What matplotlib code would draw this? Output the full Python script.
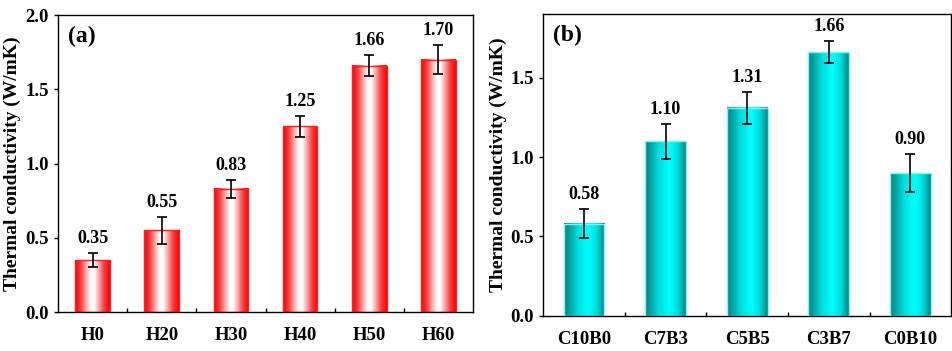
import numpy as np
import matplotlib
matplotlib.use("Agg")
import matplotlib.pyplot as plt
from matplotlib.colors import LinearSegmentedColormap
from matplotlib.ticker import MultipleLocator, FixedLocator, FormatStrFormatter

plt.rcParams["font.family"] = ["Liberation Serif", "DejaVu Serif"]
plt.rcParams["font.weight"] = "bold"

# panel (a)
labels_a = ["H0", "H20", "H30", "H40", "H50", "H60"]
values_a = [0.35, 0.55, 0.83, 1.25, 1.66, 1.70]
errors_a = [0.05, 0.09, 0.06, 0.07, 0.07, 0.10]
text_a = ["0.35", "0.55", "0.83", "1.25", "1.66", "1.70"]

# panel (b)
labels_b = ["C10B0", "C7B3", "C5B5", "C3B7", "C0B10"]
values_b = [0.58, 1.10, 1.31, 1.66, 0.90]
errors_b = [0.09, 0.11, 0.10, 0.07, 0.12]
text_b = ["0.58", "1.10", "1.31", "1.66", "0.90"]

red_cmap = LinearSegmentedColormap.from_list(
    "redwhite", [(0, "#ff0000"), (0.15, "#f53a3a"), (0.45, "#ffffff"),
                 (0.55, "#ffffff"), (0.85, "#f53a3a"), (1, "#ff0000")])
cyan_cmap = LinearSegmentedColormap.from_list(
    "teal", [(0, "#0a8080"), (0.35, "#00e0e0"), (0.6, "#00ffff"),
             (0.8, "#00dede"), (1, "#0a8585")])


def grad_bars(ax, vals, errs, texts, cmap, edge, width, ymax):
    x = np.arange(len(vals))
    grad = np.linspace(0, 1, 64).reshape(1, -1)
    for xi, v in zip(x, vals):
        ax.imshow(grad, cmap=cmap, aspect="auto", origin="lower",
                  extent=[xi - width / 2, xi + width / 2, 0, v], zorder=2,
                  interpolation="bilinear")
    ax.bar(x, vals, width=width, facecolor="none", edgecolor=edge,
           linewidth=1.0, zorder=3)
    ax.errorbar(x, vals, yerr=errs, fmt="none", ecolor="black",
                elinewidth=1.2, capsize=3.5, capthick=1.2, zorder=4)
    for xi, v, e, t in zip(x, vals, errs, texts):
        ax.text(xi, v + e + ymax * 0.02, t, ha="center", va="bottom",
                fontsize=13, fontweight="bold")
    ax.set_xlim(-0.5, len(vals) - 0.5)
    ax.set_ylim(0, ymax)


fig = plt.figure(figsize=(9.53, 3.51), dpi=100)
ax1 = fig.add_axes([0.0609, 0.111, 0.4354, 0.846])
ax2 = fig.add_axes([0.570, 0.100, 0.428, 0.860])

grad_bars(ax1, values_a, errors_a, text_a, red_cmap, "#ff2020", 0.5, 2.0)
grad_bars(ax2, values_b, errors_b, text_b, cyan_cmap, "#7ff5f5", 0.5, 1.9)

for ax, labels, tag in [(ax1, labels_a, "(a)"), (ax2, labels_b, "(b)")]:
    n = len(labels)
    ax.set_xticks(np.arange(n))
    ax.set_xticklabels(labels, fontsize=13.5, fontweight="bold")
    ax.xaxis.set_minor_locator(FixedLocator(np.arange(n - 1) + 0.5))
    ax.tick_params(axis="x", which="major", length=0, pad=11)
    ax.tick_params(axis="x", which="minor", direction="in", length=3, width=1)
    ax.yaxis.set_major_locator(MultipleLocator(0.5))
    ax.yaxis.set_major_formatter(FormatStrFormatter("%.1f"))
    ax.tick_params(axis="y", direction="out", length=3, width=1, labelsize=13.5)
    for lab in ax.get_yticklabels():
        lab.set_fontweight("bold")
    ax.set_ylabel("Thermal conductivity (W/mK)", fontsize=14,
                  fontweight="bold", labelpad=3)
    for sp in ax.spines.values():
        sp.set_linewidth(1.0)
    ax.text(0.025, 0.965, tag, transform=ax.transAxes, ha="left", va="top",
            fontsize=17, fontweight="bold")

fig.savefig("out.png", dpi=100)
